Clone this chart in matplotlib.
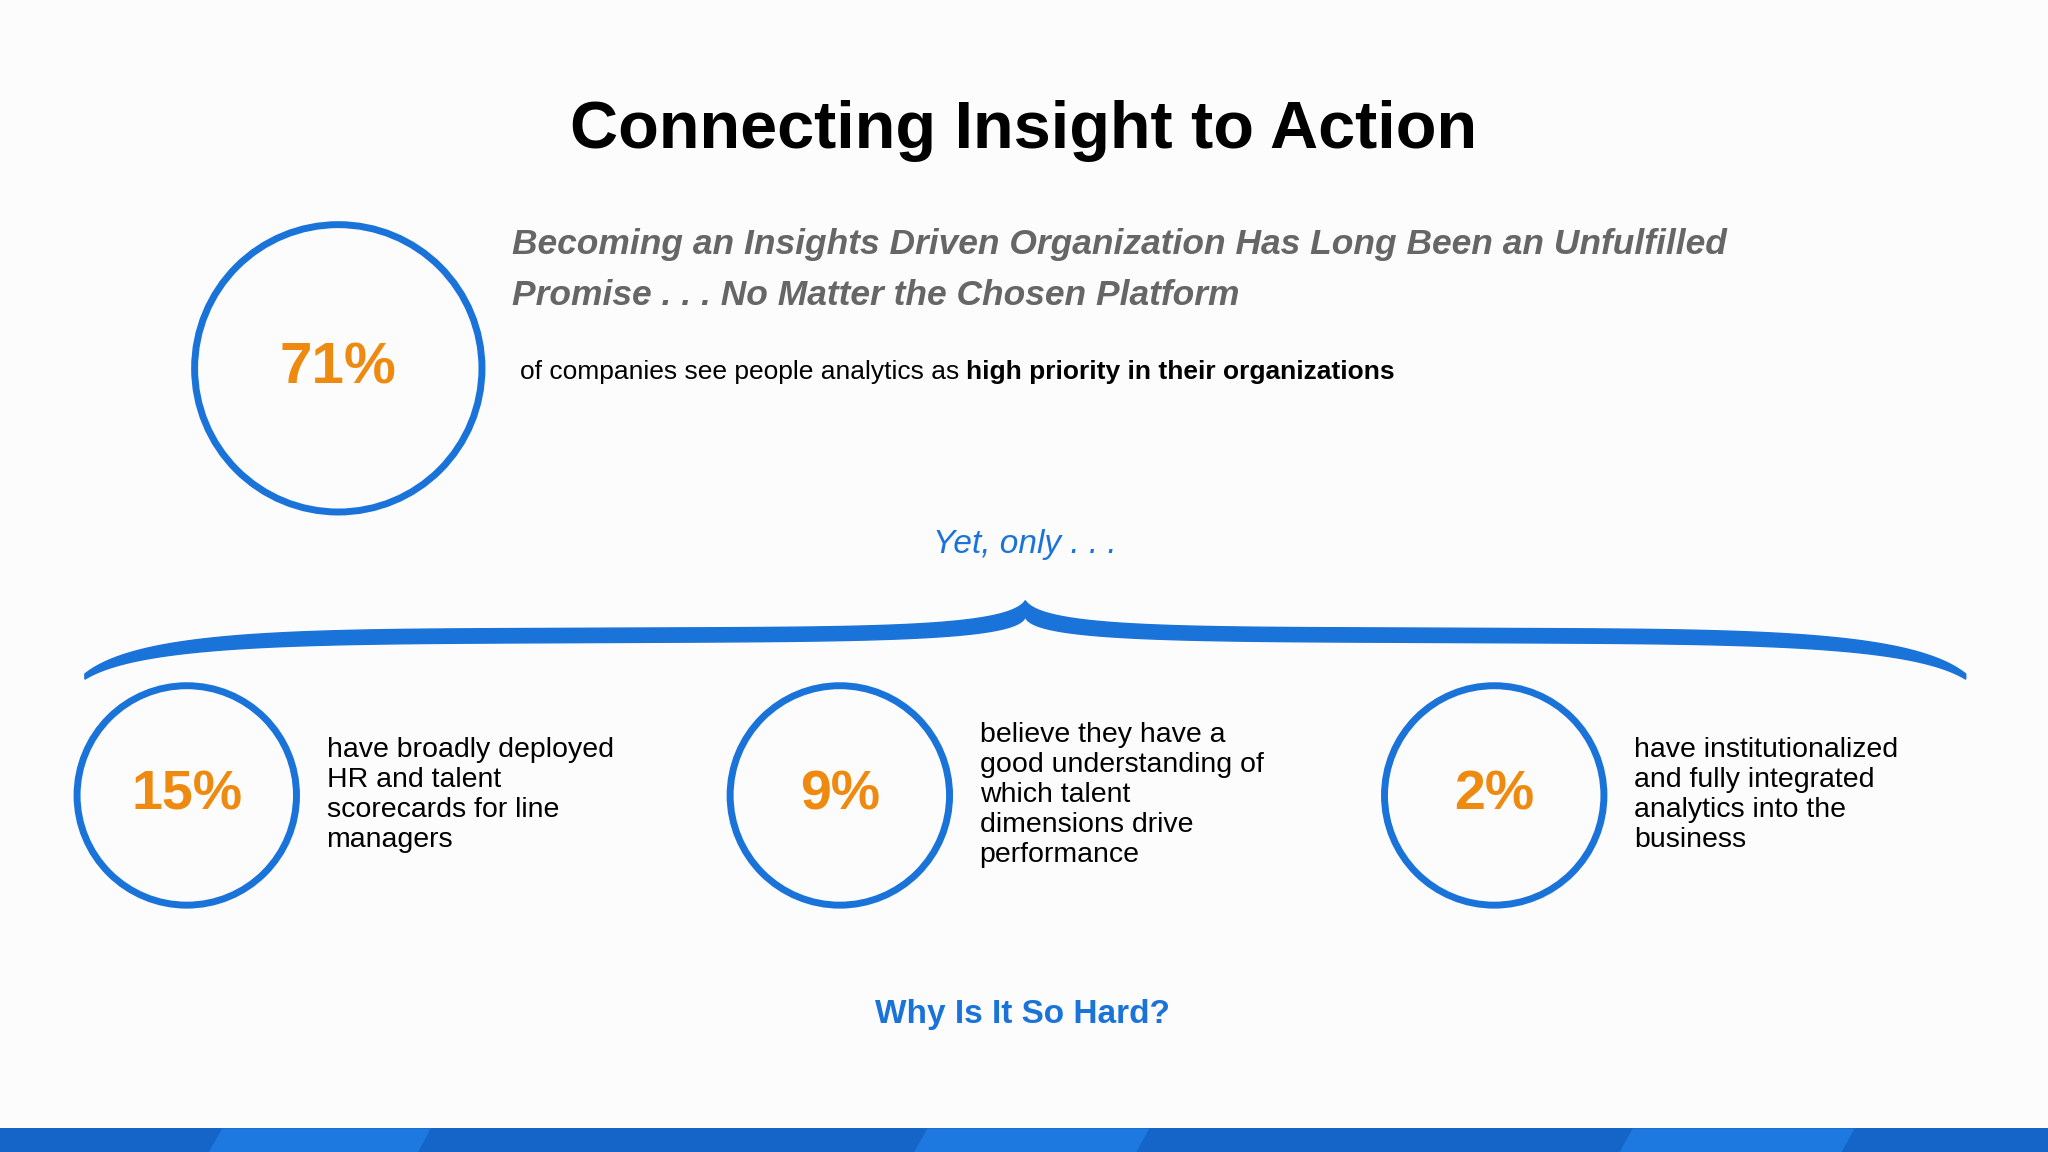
import matplotlib
matplotlib.use("Agg")
import matplotlib.pyplot as plt
import numpy as np
from matplotlib.patches import Circle, Polygon, Rectangle

plt.rcParams['font.family'] = ['Liberation Sans', 'DejaVu Sans']

title = "Connecting Insight to Action"
subtitle = ["Becoming an Insights Driven Organization Has Long Been an Unfulfilled",
            "Promise . . . No Matter the Chosen Platform"]
main_pct = "71%"
main_text_plain = "of companies see people analytics as "
main_text_bold = "high priority in their organizations"
connector = "Yet, only . . ."
pcts = ["15%", "9%", "2%"]
descs = ["have broadly deployed\nHR and talent\nscorecards for line\nmanagers",
         "believe they have a\ngood understanding of\nwhich talent\ndimensions drive\nperformance",
         "have institutionalized\nand fully integrated\nanalytics into the\nbusiness"]
footer = "Why Is It So Hard?"

BLUE = "#1a73d9"
ORANGE = "#ee8a0f"
GRAY = "#666666"

fig = plt.figure(figsize=(20.48, 11.52), dpi=100)
ax = fig.add_axes([0, 0, 1, 1])
ax.set_xlim(0, 1568); ax.set_ylim(882, 0); ax.axis("off")
fig.patch.set_facecolor("#fcfcfd")

ax.text(784, 100, title, ha="center", va="center", fontsize=48, weight="bold", color="black")
ax.text(392, 187, subtitle[0], ha="left", va="center", fontsize=25.5, weight="bold", style="italic", color=GRAY)
ax.text(392, 226, subtitle[1], ha="left", va="center", fontsize=25.5, weight="bold", style="italic", color=GRAY)

ax.add_patch(Circle((259, 282), 110, fill=False, ec=BLUE, lw=5))
ax.text(259, 282, main_pct, ha="center", va="center", fontsize=42, weight="bold", color=ORANGE)
t1 = ax.text(398, 285, main_text_plain, ha="left", va="center", fontsize=19, color="black")
fig.canvas.draw()
bb = t1.get_window_extent(renderer=fig.canvas.get_renderer())
x_end = ax.transData.inverted().transform((bb.x1, bb.y0))[0]
ax.text(x_end, 285, main_text_bold, ha="left", va="center", fontsize=19, weight="bold", color="black")

ax.text(785, 417, connector, ha="center", va="center", fontsize=24, style="italic", color=BLUE)

def bez(p, n=100):
    t = np.linspace(0, 1, n)[:, None]
    p = np.array(p, float)
    return (1-t)**3*p[0] + 3*(1-t)**2*t*p[1] + 3*(1-t)*t**2*p[2] + t**3*p[3]
upper_l = np.vstack([bez([(65, 516), (110, 480), (250, 482), (450, 481)]),
                     bez([(450, 481), (650, 480), (770, 482), (785, 460)])])
lower_l = np.vstack([bez([(65, 520), (110, 492), (250, 493), (450, 492)]),
                     bez([(450, 492), (650, 491), (780, 492), (785, 472)])])
upper_r = upper_l.copy(); upper_r[:, 0] = 1570 - upper_r[:, 0]
lower_r = lower_l.copy(); lower_r[:, 0] = 1570 - lower_r[:, 0]
for up, lo in [(upper_l, lower_l), (upper_r, lower_r)]:
    ax.add_patch(Polygon(np.vstack([up, lo[::-1]]), closed=True, fc=BLUE, ec=BLUE, lw=1))

centers = [143, 643, 1144]
for cx, p, d in zip(centers, pcts, descs):
    ax.add_patch(Circle((cx, 609), 84, fill=False, ec=BLUE, lw=5))
    ax.text(cx, 609, p, ha="center", va="center", fontsize=40, weight="bold", color=ORANGE)
    ax.text(cx + 107, 609, d, ha="left", va="center", fontsize=20.5, color="black", linespacing=1.2)

ax.text(783, 777, footer, ha="center", va="center", fontsize=24, weight="bold", color=BLUE)

ax.add_patch(Rectangle((0, 864), 1568, 18, fc="#1565c8", ec="none"))
for x0, x1 in [(160, 330), (700, 880), (1240, 1420)]:
    ax.add_patch(Polygon([(x0, 882), (x0 + 10, 864), (x1, 864), (x1 - 10, 882)], fc="#1d78e0", ec="none"))

fig.savefig("out.png", dpi=100, facecolor=fig.get_facecolor())
